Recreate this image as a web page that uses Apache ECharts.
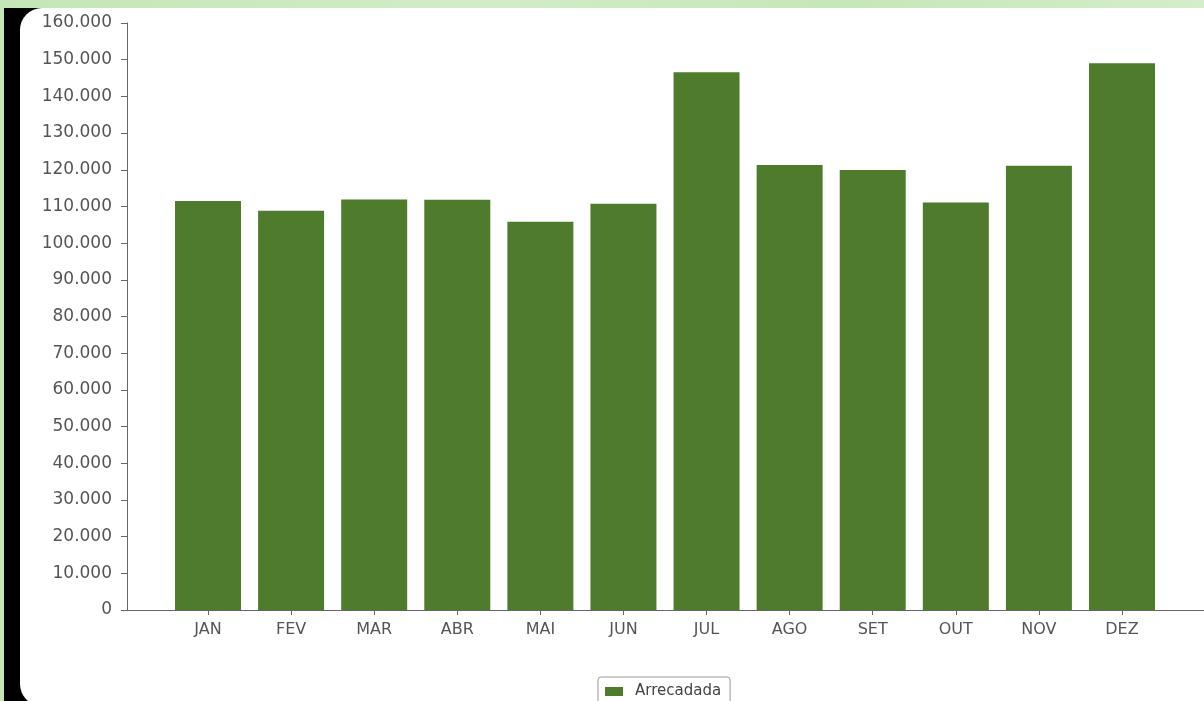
<!DOCTYPE html>
<html>
<head>
<meta charset="utf-8">
<script src="https://cdn.jsdelivr.net/npm/echarts@6/dist/echarts.min.js"></script>
<style>
  html, body { margin:0; padding:0; width:1204px; height:701px; overflow:hidden; }
  body { background: linear-gradient(90deg, #c4e6b6 0%, #d2ecc8 40%, #c6e7b9 70%, #d4edca 100%); position:relative; }
  #blk { position:absolute; left:4px; top:8px; width:1300px; height:800px; background:#000; }
  #card { position:absolute; left:20px; top:8px; width:1300px; height:698px; background:#fff; border-radius:22px; }
  #chart { position:absolute; left:0; top:0; width:1204px; height:701px; }
</style>
</head>
<body>
<div id="blk"></div>
<div id="card"></div>
<div id="chart"></div>
<script>
const months = ['JAN','FEV','MAR','ABR','MAI','JUN','JUL','AGO','SET','OUT','NOV','DEZ'];
const arrecadada = [111500, 108800, 111900, 111800, 105800, 110700, 146600, 121300, 119900, 111100, 121100, 149000];
const yTicks = { min: 0, max: 160000, step: 10000 };
const seriesName = 'Arrecadada';

const idx = months.map((m, i) => i);
const chart = echarts.init(document.getElementById('chart'), null, { renderer: 'canvas' });
const fmt = v => v === 0 ? '0' : String(Math.round(v)).replace(/\B(?=(\d{3})+(?!\d))/g, '.');
chart.setOption({
  backgroundColor: 'transparent',
  animation: false,
  grid: { left: 127, right: 0, top: 23, bottom: 91, containLabel: false },
  legend: {
    data: [seriesName], left: 598, top: 677,
    itemWidth: 18, itemHeight: 9, itemGap: 10,
    borderColor: '#999', borderWidth: 1, borderRadius: 3,
    padding: [7, 9, 8, 7],
    textStyle: { fontFamily: 'DejaVu Sans', fontSize: 15, color: '#444', padding: [0, 0, 0, 7] },
    icon: 'rect'
  },
  xAxis: {
    type: 'value', min: -0.975, max: 11.987,
    splitLine: { show: false },
    axisLine: { onZero: false, lineStyle: { color: '#666', width: 1 } },
    axisTick: { show: true, customValues: idx, length: 5, lineStyle: { color: '#666' } },
    axisLabel: { customValues: idx, formatter: v => months[Math.round(v)] || '', margin: 12,
      fontFamily: 'DejaVu Sans', fontSize: 16, color: '#555' }
  },
  yAxis: {
    type: 'value', min: yTicks.min, max: yTicks.max, interval: yTicks.step,
    splitLine: { show: false },
    axisLine: { show: true, onZero: false, lineStyle: { color: '#666', width: 1 } },
    axisTick: { show: true, length: 6, lineStyle: { color: '#666' } },
    axisLabel: { formatter: fmt, margin: 15, fontFamily: 'DejaVu Sans', fontSize: 17, color: '#555' }
  },
  series: [{
    name: seriesName, type: 'bar', barWidth: 66,
    itemStyle: { color: '#4e7b2c' },
    data: arrecadada.map((v, i) => [i, v])
  }]
});
</script>
</body>
</html>
